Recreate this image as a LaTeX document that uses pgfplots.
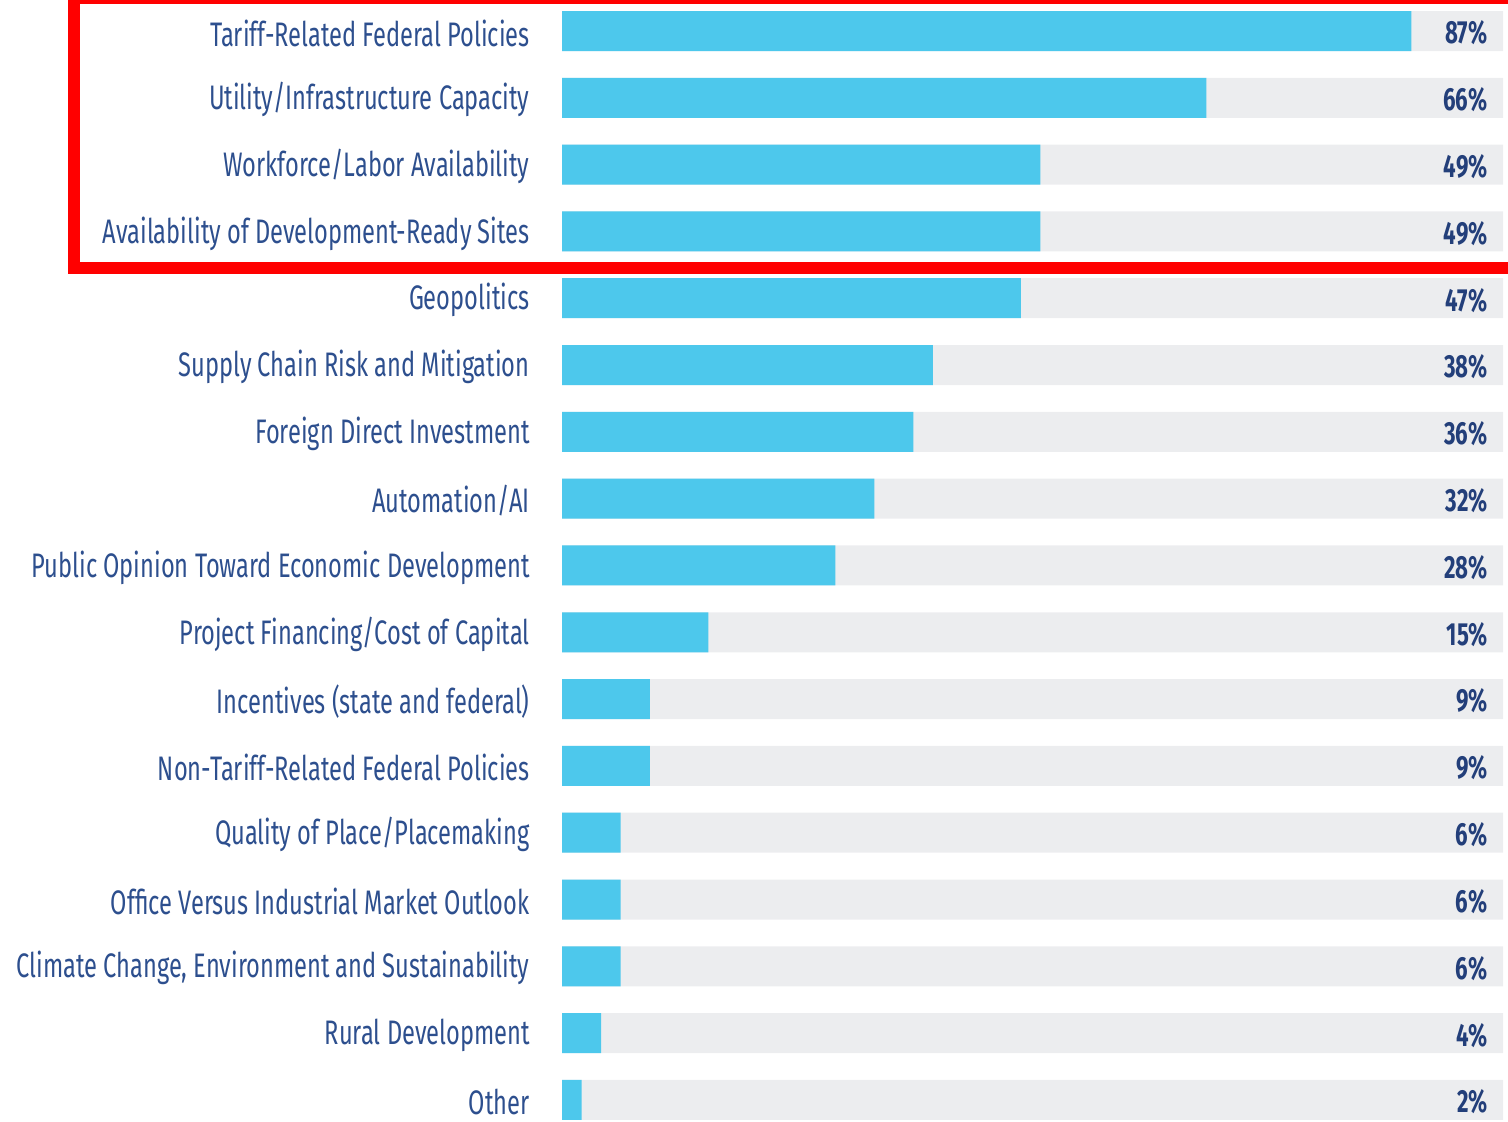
\documentclass[border=0pt]{standalone}
\usepackage{pgfplots}
\pgfplotsset{compat=1.18}
\usepackage{fontspec}
\setmainfont{Fira Sans}[FakeStretch=0.695]
\definecolor{barblue}{HTML}{4DC8EC}
\definecolor{bargray}{HTML}{ECEDEF}
\definecolor{labnavy}{HTML}{2D4F8E}
\definecolor{pctnavy}{HTML}{233F7A}
\begin{document}
\begin{tikzpicture}
\useasboundingbox (0,0) rectangle (754bp,561bp);
\clip (0,0) rectangle (754bp,561bp);
\begin{axis}[
  at={(281bp,0bp)}, anchor=south west,
  scale only axis, width=470.5bp, height=561bp,
  xmin=0, xmax=96.4, ymin=-0.464, ymax=16.33,
  y dir=reverse, clip=false,
  axis line style={draw=none},
  xtick=\empty,
  ytick={0,...,16},
  major tick length=0pt,
  tick style={draw=none},
  yticklabels={Tariff-Related Federal Policies,Utility/Infrastructure Capacity,Workforce/Labor Availability,Availability of Development-Ready Sites,Geopolitics,Supply Chain Risk and Mitigation,Foreign Direct Investment,Automation/AI,Public Opinion Toward Economic Development,Project Financing/Cost of Capital,Incentives (state and federal),Non-Tariff-Related Federal Policies,Quality of Place/Placemaking,Office Versus Industrial Market Outlook,{Climate Change, Environment and Sustainability},Rural Development,Other},
  yticklabel style={anchor=east, inner sep=0pt, xshift=-16bp, yshift=-1bp, text=labnavy, font=\fontsize{17bp}{20bp}\selectfont},
  xbar, bar width=20bp, bar shift=0pt,
]
\addplot[xbar, fill=bargray, draw=none] coordinates {
(96.4,0) (96.4,1) (96.4,2) (96.4,3) (96.4,4) (96.4,5) (96.4,6) (96.4,7) (96.4,8) (96.4,9) (96.4,10) (96.4,11) (96.4,12) (96.4,13) (96.4,14) (96.4,15) (96.4,16)};
\addplot[xbar, fill=barblue, draw=none] coordinates {
(87,0) (66,1) (49,2) (49,3) (47,4) (38,5) (36,6) (32,7) (28,8) (15,9) (9,10) (9,11) (6,12) (6,13) (6,14) (4,15) (2,16)};
\addplot[draw=none, mark=none, forget plot,
  nodes near coords={\pgfplotspointmeta\%},
  point meta=explicit symbolic,
  nodes near coords style={anchor=east, inner sep=0pt, yshift=-1bp, text=pctnavy, font=\fontsize{16bp}{18bp}\selectfont\bfseries}]
  table[meta=m] {
x y m
94.86 0 87
94.86 1 66
94.86 2 49
94.86 3 49
94.86 4 47
94.86 5 38
94.86 6 36
94.86 7 32
94.86 8 28
94.86 9 15
94.86 10 9
94.86 11 9
94.86 12 6
94.86 13 6
94.86 14 6
94.86 15 4
94.86 16 2
};
\end{axis}
\draw[red, line width=6bp] (37bp,427bp) rectangle (760bp,562bp);
\end{tikzpicture}
\end{document}
